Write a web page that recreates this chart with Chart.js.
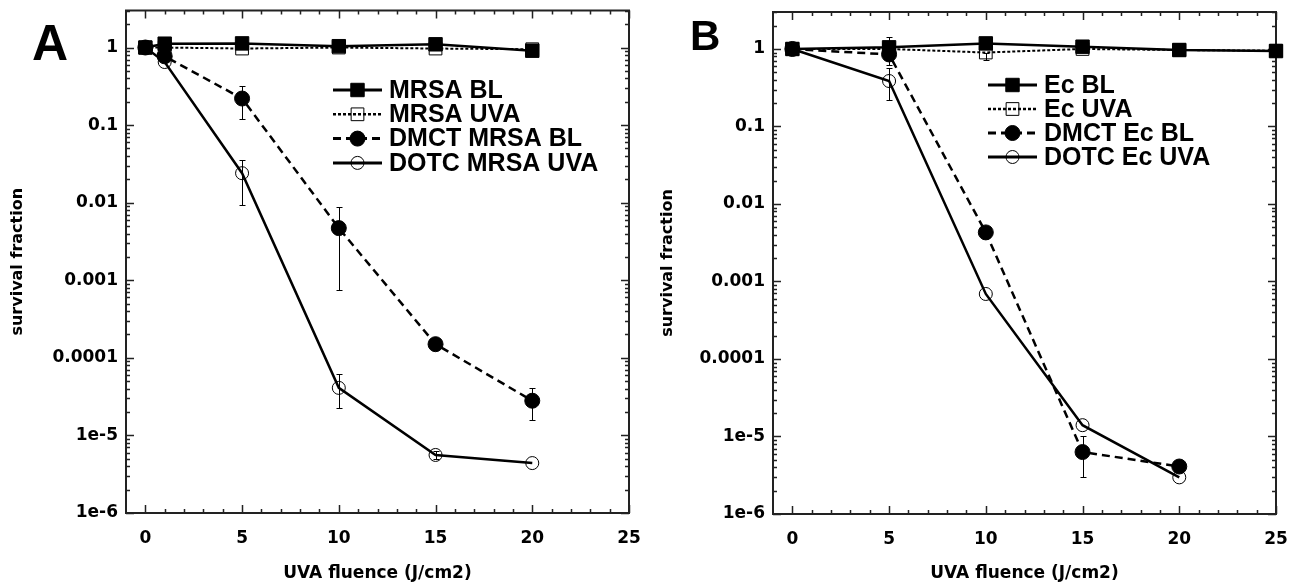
<!DOCTYPE html>
<html>
<head>
<meta charset="utf-8">
<title>Survival fraction vs UVA fluence</title>
<script src="https://cdn.jsdelivr.net/npm/chart.js@4.4.1/dist/chart.umd.min.js"></script>
<style>
  body { margin: 0; background: #fff; width: 1303px; height: 586px; overflow: hidden; position: relative; }
  .panel { position: absolute; top: 0; height: 586px; }
  .letter { position: absolute; font-family: "Liberation Sans", Arial, sans-serif; font-weight: bold; line-height: 1; color: #000; }
</style>
</head>
<body>
<div class="panel" style="left:0;width:650px"><canvas id="chart-a" width="650" height="586"></canvas></div>
<div class="panel" style="left:650px;width:653px"><canvas id="chart-b" width="653" height="586"></canvas></div>
<div class="letter" style="left:32px;top:18px;font-size:50px">A</div>
<div class="letter" style="left:690px;top:15px;font-size:42px">B</div>

<script>
// ========== Data ==========

// Panel A (MRSA)
const fluenceA = [0, 1, 5, 10, 15, 20];
const mrsaBl = [1.0, 1.12, 1.13, 1.04, 1.1, 0.91];
const mrsaUva = [1.0, 1.0, 0.97, 1.0, 0.97, 0.95];
const dmctMrsaBl = [1.0, 0.77, 0.22, 0.0047, 0.00015, 0.000028];
const dmctMrsaLo = [null, null, 0.12, 0.00075, null, 0.000016];
const dmctMrsaHi = [null, null, 0.32, 0.0089, null, 0.000041];
const dotcMrsaUva = [1.0, 0.65, 0.024, 0.000041, 0.0000056, 0.0000044];
const dotcMrsaLo = [null, null, 0.0092, 0.0000225, 0.000005, null];
const dotcMrsaHi = [null, null, 0.036, 0.000062, 0.0000063, null];

// Panel B (E. coli)
const fluenceB = [0, 5, 10, 15, 20, 25];
const fluenceBDrug = [0, 5, 10, 15, 20];
const ecBl = [1.0, 1.05, 1.18, 1.07, 0.97, 0.94];
const ecBlLo = [null, 0.62, null, null, null, null];
const ecBlHi = [null, 1.44, null, null, null, null];
const ecUva = [1.0, 1.0, 0.9, 1.0, 0.97, 0.95];
const ecUvaLo = [null, null, 0.72, null, null, null];
const ecUvaHi = [null, null, 0.9, null, null, null];
const dmctEcBl = [1.0, 0.85, 0.0043, 0.0000063, 0.0000041];
const dmctEcLo = [null, null, null, 0.000003, null];
const dmctEcHi = [null, null, null, 0.00001, null];
const dotcEcUva = [1.0, 0.386, 0.00069, 0.000014, 0.00000297];
const dotcEcLo = [null, 0.22, null, null, null];
const dotcEcHi = [null, 0.57, null, null, null];

// Axes
const xTickValues = [0, 5, 10, 15, 20, 25];
const yTickValues = [1e-6, 1e-5, 1e-4, 1e-3, 1e-2, 1e-1, 1];
const yTickLabels = ['1e-6', '1e-5', '0.0001', '0.001', '0.01', '0.1', '1'];

// ========== Styles ==========

const BLACK = '#000';
const CLEAR = 'rgba(0,0,0,0)';

const seriesStyles = {
  bl: { pointStyle: 'rect', pointRadius: 9.5, pointBackgroundColor: BLACK, pointBorderColor: BLACK, pointBorderWidth: 1, borderColor: BLACK, borderWidth: 2.5, borderDash: [] },
  uva: { pointStyle: 'rect', pointRadius: 9, pointBackgroundColor: CLEAR, pointBorderColor: BLACK, pointBorderWidth: 1, borderColor: BLACK, borderWidth: 2, borderDash: [3, 2] },
  dmct: { pointStyle: 'circle', pointRadius: 7.5, pointBackgroundColor: BLACK, pointBorderColor: BLACK, pointBorderWidth: 1, borderColor: BLACK, borderWidth: 2.5, borderDash: [8, 5] },
  dotc: { pointStyle: 'circle', pointRadius: 6.5, pointBackgroundColor: CLEAR, pointBorderColor: BLACK, pointBorderWidth: 1, borderColor: BLACK, borderWidth: 2.5, borderDash: [] },
};

const tickFont = { family: '"DejaVu Sans", Verdana, sans-serif', weight: 'bold', size: 17 };

function makeSeries(label, xs, ys, style, lo, hi) {
  return Object.assign({
    label,
    data: xs.map((x, i) => ({ x, y: ys[i] })),
    errLo: lo || null,
    errHi: hi || null,
    tension: 0,
    clip: false,
    pointHoverRadius: style.pointRadius,
  }, style);
}

// ========== Plugins ==========

// box frame with inward ticks on all four sides
const framePlugin = {
  id: 'frame',
  beforeDatasetsDraw(chart) {
    const { ctx, chartArea: a, scales: { x, y } } = chart;
    ctx.save();
    ctx.strokeStyle = '#222';
    ctx.lineWidth = 1.5;
    ctx.beginPath();
    for (let v = 0; v <= 25; v++) {
      const px = Math.round(x.getPixelForValue(v)) + 0.5;
      const len = v % 5 === 0 ? 8 : 4;
      ctx.moveTo(px, a.bottom); ctx.lineTo(px, a.bottom - len);
      ctx.moveTo(px, a.top); ctx.lineTo(px, a.top + len);
    }
    for (let e = -6; e <= 0; e++) {
      for (let m = 1; m <= 9; m++) {
        const v = m * Math.pow(10, e);
        if (v > y.max) break;
        const py = Math.round(y.getPixelForValue(v)) + 0.5;
        const len = m === 1 ? 8 : 4;
        ctx.moveTo(a.left, py); ctx.lineTo(a.left + len, py);
        ctx.moveTo(a.right, py); ctx.lineTo(a.right - len, py);
      }
    }
    ctx.stroke();
    ctx.lineWidth = 2;
    ctx.strokeRect(a.left, a.top, a.right - a.left, a.bottom - a.top);
    ctx.restore();
  }
};

const errorBarPlugin = {
  id: 'errorBars',
  afterDatasetsDraw(chart) {
    const { ctx, scales: { x, y } } = chart;
    ctx.save();
    ctx.strokeStyle = BLACK;
    ctx.lineWidth = 1;
    chart.data.datasets.forEach(ds => {
      if (!ds.errLo) return;
      ds.data.forEach((p, i) => {
        const lo = ds.errLo[i];
        const hi = ds.errHi[i];
        if (lo == null || hi == null) return;
        const px = Math.round(x.getPixelForValue(p.x)) + 0.5;
        const yLo = Math.round(y.getPixelForValue(lo)) + 0.5;
        const yHi = Math.round(y.getPixelForValue(hi)) + 0.5;
        ctx.beginPath();
        ctx.moveTo(px, yLo); ctx.lineTo(px, yHi);
        ctx.moveTo(px - 3, yLo); ctx.lineTo(px + 3, yLo);
        ctx.moveTo(px - 3, yHi); ctx.lineTo(px + 3, yHi);
        ctx.stroke();
      });
    });
    ctx.restore();
  }
};

// legend rows: line sample with marker in the middle, then the label
const lineLegendPlugin = {
  id: 'lineLegend',
  afterDraw(chart, args, opts) {
    const { ctx } = chart;
    ctx.save();
    ctx.font = 'bold 25px "Liberation Sans", Arial, sans-serif';
    ctx.textBaseline = 'middle';
    chart.data.datasets.forEach((ds, i) => {
      const cy = opts.top + i * opts.rowHeight;
      const x0 = opts.left;
      const x1 = opts.left + opts.lineLength;
      ctx.strokeStyle = ds.borderColor;
      ctx.lineWidth = ds.borderWidth + 0.5;
      ctx.setLineDash(ds.borderDash || []);
      ctx.beginPath();
      ctx.moveTo(x0, cy);
      ctx.lineTo(x1, cy);
      ctx.stroke();
      ctx.setLineDash([]);
      ctx.fillStyle = ds.pointBackgroundColor;
      ctx.strokeStyle = ds.pointBorderColor;
      ctx.lineWidth = ds.pointBorderWidth;
      Chart.helpers.drawPoint(ctx, {
        pointStyle: ds.pointStyle, radius: ds.pointRadius, rotation: 0, borderWidth: ds.pointBorderWidth,
      }, (x0 + x1) / 2, cy);
      ctx.fillStyle = BLACK;
      ctx.fillText(ds.label, x1 + 7, cy + 1);
    });
    ctx.restore();
  }
};

// ========== Chart builder ==========

function buildChart(canvasId, datasets, box, legend) {
  return new Chart(document.getElementById(canvasId), {
    type: 'line',
    data: { datasets },
    options: {
      responsive: false,
      animation: false,
      events: [],
      layout: { padding: { top: box.top, right: box.right, left: 0, bottom: 0 } },
      plugins: {
        legend: { display: false },
        tooltip: { enabled: false },
        lineLegend: legend,
      },
      scales: {
        x: {
          type: 'linear',
          min: -1,
          max: 25,
          grid: { display: false, drawTicks: false },
          border: { display: false },
          afterBuildTicks: s => { s.ticks = xTickValues.map(v => ({ value: v })); },
          afterFit: s => {
            s.height = box.xHeight;
            s.paddingLeft = 0;
            s.paddingRight = 0;
          },
          ticks: { font: tickFont, color: BLACK, padding: 15, maxRotation: 0, autoSkip: false },
          title: {
            display: true, text: 'UVA fluence (J/cm2)', color: BLACK,
            font: { family: '"DejaVu Sans", Verdana, sans-serif', weight: 'bold', size: 17 },
            padding: { top: 0, bottom: 2 },
          },
        },
        y: {
          type: 'logarithmic',
          min: 1e-6,
          max: 3,
          grid: { display: false, drawTicks: false },
          border: { display: false },
          afterBuildTicks: s => { s.ticks = yTickValues.map(v => ({ value: v })); },
          afterFit: s => {
            s.width = box.yWidth;
            s.paddingTop = 0;
            s.paddingBottom = 0;
          },
          ticks: { font: tickFont, color: BLACK, padding: 8, callback: (v, i) => yTickLabels[i] },
          title: {
            display: true, text: 'survival fraction', color: BLACK,
            font: { family: '"DejaVu Sans", Verdana, sans-serif', weight: 'bold', size: 16 },
            padding: { top: 8, bottom: 0 },
          },
        },
      },
    },
    plugins: [framePlugin, errorBarPlugin, lineLegendPlugin],
  });
}

// ========== Initialization ==========

buildChart('chart-a', [
  makeSeries('MRSA BL', fluenceA, mrsaBl, seriesStyles.bl),
  makeSeries('MRSA UVA', fluenceA, mrsaUva, seriesStyles.uva),
  makeSeries('DMCT MRSA BL', fluenceA, dmctMrsaBl, seriesStyles.dmct, dmctMrsaLo, dmctMrsaHi),
  makeSeries('DOTC MRSA UVA', fluenceA, dotcMrsaUva, seriesStyles.dotc, dotcMrsaLo, dotcMrsaHi),
], { top: 10, right: 21, xHeight: 73, yWidth: 126 }, { left: 333, top: 90, rowHeight: 24.3, lineLength: 49 });

buildChart('chart-b', [
  makeSeries('Ec BL', fluenceB, ecBl, seriesStyles.bl, ecBlLo, ecBlHi),
  makeSeries('Ec UVA', fluenceB, ecUva, seriesStyles.uva, ecUvaLo, ecUvaHi),
  makeSeries('DMCT Ec BL', fluenceBDrug, dmctEcBl, seriesStyles.dmct, dmctEcLo, dmctEcHi),
  makeSeries('DOTC Ec UVA', fluenceBDrug, dotcEcUva, seriesStyles.dotc, dotcEcLo, dotcEcHi),
], { top: 12, right: 27, xHeight: 72, yWidth: 123 }, { left: 338, top: 85, rowHeight: 24, lineLength: 49 });
</script>
</body>
</html>
